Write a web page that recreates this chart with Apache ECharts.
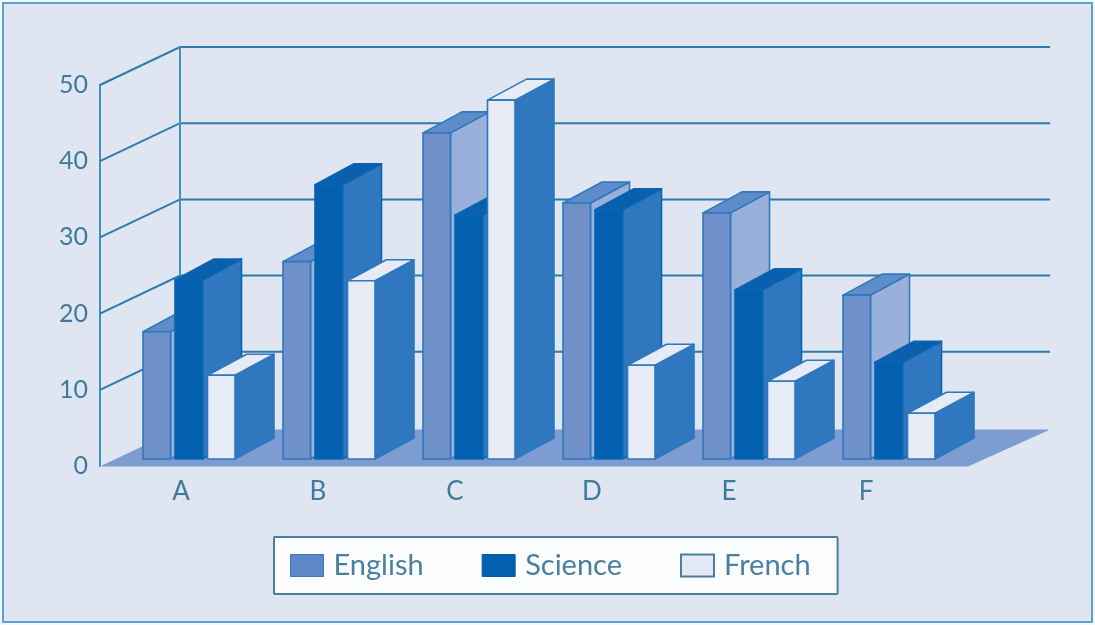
<!DOCTYPE html>
<html><head><meta charset="utf-8">
<style>html,body{margin:0;padding:0;background:#f4f7fb}#c{width:1095px;height:625px}</style>
<script src="https://cdn.jsdelivr.net/npm/echarts@6/dist/echarts.min.js"></script>
</head><body><div id="c"></div>
<script>
const categories = ['A','B','C','D','E','F'];
const english = [16.7,25.9,42.8,33.6,32.3,21.5];
const science = [23.5,36,32,32.7,22.2,12.7];
const french = [11,23.4,47.1,12.3,10.2,6];
const yTicks = [0,10,20,30,40,50];

const chart = echarts.init(document.getElementById('c'));
const WALL = [80,-38];        // depth of the side wall
const BASE = [0,-7];          // bars stand slightly behind the front floor edge
const DEPTH = [39,-21];       // depth of a bar
const BAR_W = 27.5;
const LINE = '#2d7bab', WALL_LINE = '#4490bf', EDGE = '#2f78bc';

function bar(offset, front, side, top, edge) {
  return function (params, api) {
    const c = api.coord([api.value(0), api.value(1)]);
    const b = api.coord([api.value(0), 0]);
    const x0 = b[0] + offset, x1 = x0 + BAR_W;
    const yT = c[1] + BASE[1], yB = b[1] + BASE[1];
    const dx = DEPTH[0], dy = DEPTH[1];
    const st = {stroke: edge, lineWidth: 1.6, lineJoin:'round'};
    return {type:'group', children:[
      {type:'polygon', shape:{points:[[x1,yT],[x1+dx,yT+dy],[x1+dx,yB+dy],[x1,yB]]}, style:{fill:side, ...st}},
      {type:'polygon', shape:{points:[[x0,yT],[x0+dx,yT+dy],[x1+dx,yT+dy],[x1,yT]]}, style:{fill:top, ...st}},
      {type:'rect', shape:{x:x0,y:yT,width:BAR_W,height:yB-yT}, style:{fill:front, ...st}}
    ]};
  };
}
function barSeries(name, values, offset, front, side, top, edge) {
  return {type:'custom', name, coordinateSystem:'cartesian2d', xAxisIndex:0, yAxisIndex:0, clip:false,
    encode:{x:0,y:1}, z:5,
    data: values.map((v,i)=>[i,v]), renderItem: bar(offset,front,side,top,edge)};
}

chart.setOption({
  animation:false,
  backgroundColor:'transparent',
  graphic:[{type:'rect', z:-10, silent:true, shape:{x:3,y:3,width:1089,height:619},
    style:{fill:'#dfe5f1', stroke:'#5ba2d2', lineWidth:2}}],
  grid:[
    {left:119, width:840, top:85, height:381},
    {left:112.5, width:822, top:85, height:381}
  ],
  xAxis:[
    {type:'category', gridIndex:0, data:categories, show:false},
    {type:'category', gridIndex:1, data:categories,
      axisLine:{show:false}, axisTick:{show:false},
      axisLabel:{color:'#3f7a9d', fontFamily:'Lato', fontSize:26, margin:13}}
  ],
  yAxis:[
    {type:'value', gridIndex:0, min:0, max:50, interval:10, offset:19,
      axisLine:{show:true, lineStyle:{color:WALL_LINE,width:2}}, axisTick:{show:false}, splitLine:{show:false},
      axisLabel:{color:'#3f7a9d', fontFamily:'Lato', fontSize:25, margin:12,
        formatter:v=>yTicks.includes(v)?String(v):''}},
    {type:'value', gridIndex:1, min:0, max:50, show:false}
  ],
  legend:{
    left:274, top:537, selectedMode:false, orient:'horizontal',
    backgroundColor:'#fbfdff', borderColor:'#4a7f9f', borderWidth:2, borderRadius:1,
    padding:[14,27,14,16], itemWidth:33, itemHeight:22, itemGap:58,
    textStyle:{color:'#4a7f9f', fontFamily:'Lato', fontSize:29, padding:[0,0,0,5]},
    data:[
      {name:'English', icon:'rect', itemStyle:{color:'#5f86c6', borderColor:'#3f78b8', borderWidth:1}},
      {name:'Science', icon:'rect', itemStyle:{color:'#0360b0', borderColor:'#0360b0', borderWidth:1}},
      {name:'French', icon:'rect', itemStyle:{color:'#e2e8f4', borderColor:'#4a7f9f', borderWidth:2}}
    ]
  },
  series:[
    {type:'custom', silent:true, clip:false, z:2, xAxisIndex:0, yAxisIndex:0, encode:{y:0},
      data:yTicks.filter(v=>v>0).map(v=>[v]),
      renderItem:(p,api)=>{
        const y=api.coord([0,api.value(0)])[1];
        const L=100,R=1050;
        const kids=[{type:'polyline', shape:{points:[[L,y],[L+WALL[0],y+WALL[1]],[R,y+WALL[1]]]},
          style:{fill:null, stroke:LINE, lineWidth:2}}];
        if(api.value(0)===50){
          const y0=api.coord([0,0])[1];
          kids.push({type:'line', shape:{x1:L+WALL[0],y1:y+WALL[1],x2:L+WALL[0],y2:y0+WALL[1]},
            style:{stroke:WALL_LINE, lineWidth:2}});
        }
        return {type:'group', children:kids};
      }},
    {type:'custom', silent:true, clip:false, z:3, xAxisIndex:0, yAxisIndex:0, encode:{y:0},
      data:[[0]],
      renderItem:(p,api)=>{
        const y=api.coord([0,0])[1];
        const L=102,R=968,top=y-36;
        return {type:'polygon', shape:{points:[[L,y],[R,y],[1048,top],[L+76,top]]},
          style:{fill:'#7d9dd2', stroke:'#7d9dd2', lineWidth:1}};
      }},
    barSeries('English', english, -46, '#6f90c8', '#98b0da', '#5f8dcb', EDGE),
    barSeries('Science', science, -14, '#0360b0', '#2f78bf', '#0860ae', '#0a64b0'),
    barSeries('French', french, 18.5, '#e6ebf5', '#2f78bf', '#e6ebf5', EDGE)
  ]
});
</script></body></html>
